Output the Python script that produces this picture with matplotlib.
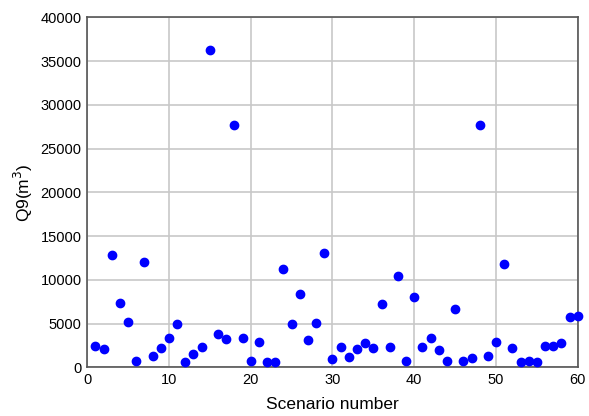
import numpy as np
import matplotlib.pyplot as plt

plt.rcParams['font.family'] = ['Liberation Sans', 'DejaVu Sans']

# scenario numbers and Q9 values (m^3)
scenario = np.arange(1, 61)
q9 = [2435, 2093, 12824, 7382, 5137, 685, 12062, 1294, 2207, 3311,
      4947, 609, 1484, 2321, 36263, 3843, 3196, 27702, 3311, 685,
      2892, 609, 609, 11263, 4909, 8371, 3120, 5023, 13052, 989,
      2321, 1218, 2055, 2740, 2207, 7192, 2359, 10464, 685, 7991,
      2283, 3311, 2017, 723, 6659, 723, 1104, 27740, 1256, 2854,
      11834, 2169, 571, 761, 647, 2397, 2474, 2740, 5708, 5860]

xticks = [0, 10, 20, 30, 40, 50, 60]
yticks = [0, 5000, 10000, 15000, 20000, 25000, 30000, 35000, 40000]

fig = plt.figure(figsize=(5.89, 4.16), dpi=100)
ax = fig.add_axes([0.148, 0.117, 0.833, 0.841])

ax.plot(scenario, q9, 'o', color='#0000ff', markersize=6, clip_on=False, zorder=3)

ax.set_xlim(0, 60)
ax.set_ylim(0, 40000)
ax.set_xticks(xticks)
ax.set_yticks(yticks)
ax.grid(True, color='#c8c8c8', linewidth=1.2)
ax.set_axisbelow(True)
ax.tick_params(length=0, labelsize=10.5, pad=4)
for s in ax.spines.values():
    s.set_color('#555555')
    s.set_linewidth(1.2)

ax.set_xlabel('Scenario number', fontsize=12.5, labelpad=7)
ax.set_ylabel('Q9(m$^3$)', fontsize=12.5, labelpad=4)

fig.savefig('out.png', dpi=100)
